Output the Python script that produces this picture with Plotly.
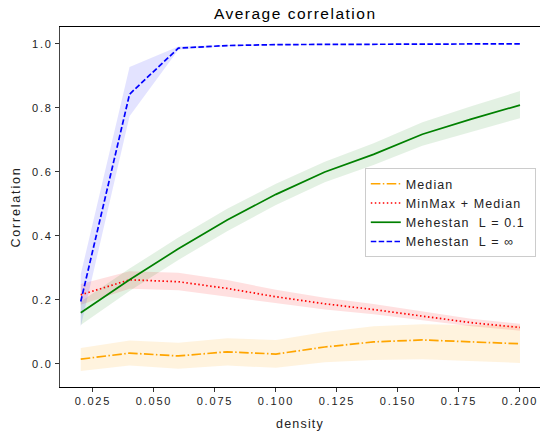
import plotly.graph_objects as go

density = [0.02, 0.04, 0.06, 0.08, 0.10, 0.12, 0.14, 0.16, 0.18, 0.20]

median_mean = [0.015, 0.034, 0.025, 0.038, 0.031, 0.053, 0.069, 0.075, 0.069, 0.063]
median_lo = [-0.022, -0.005, -0.015, -0.005, -0.012, 0.005, 0.012, 0.015, 0.010, 0.003]
median_hi = [0.050, 0.073, 0.066, 0.080, 0.075, 0.100, 0.118, 0.124, 0.122, 0.120]

minmax_mean = [0.216, 0.263, 0.257, 0.236, 0.210, 0.188, 0.170, 0.150, 0.129, 0.114]
minmax_lo = [0.185, 0.235, 0.230, 0.212, 0.190, 0.170, 0.155, 0.137, 0.118, 0.104]
minmax_hi = [0.250, 0.290, 0.285, 0.262, 0.232, 0.207, 0.187, 0.164, 0.141, 0.126]

meh01_mean = [0.160, 0.263, 0.360, 0.450, 0.530, 0.600, 0.655, 0.718, 0.765, 0.809]
meh01_lo = [0.122, 0.228, 0.325, 0.415, 0.497, 0.568, 0.622, 0.682, 0.726, 0.768]
meh01_hi = [0.195, 0.298, 0.395, 0.485, 0.563, 0.632, 0.690, 0.755, 0.805, 0.853]

mehinf_mean = [0.195, 0.843, 0.987, 0.995, 0.998, 0.999, 0.999, 1.000, 1.000, 1.000]
mehinf_lo = [0.116, 0.774, 0.982, 0.993, 0.997, 0.998, 0.998, 0.999, 0.999, 0.999]
mehinf_hi = [0.280, 0.928, 0.992, 0.997, 0.999, 1.000, 1.000, 1.000, 1.000, 1.000]

series_names = ["Median", "MinMax\u00a0+\u00a0Median", "Mehestan\u00a0 L\u00a0=\u00a00.1", "Mehestan\u00a0 L\u00a0=\u00a0∞"]

series = [
    (series_names[0], median_mean, median_lo, median_hi, "orange", "rgba(255,165,0,0.13)", "9.6px,2.4px,1.5px,2.4px"),
    (series_names[1], minmax_mean, minmax_lo, minmax_hi, "red", "rgba(255,0,0,0.12)", "1.5px,2.5px"),
    (series_names[2], meh01_mean, meh01_lo, meh01_hi, "green", "rgba(0,128,0,0.11)", "solid"),
    (series_names[3], mehinf_mean, mehinf_lo, mehinf_hi, "blue", "rgba(0,0,255,0.11)", "5.5px,2.4px"),
]

fig = go.Figure()
for name, mean, lo, hi, color, fillc, dash in series:
    fig.add_trace(go.Scatter(x=density + density[::-1], y=hi + lo[::-1], fill="toself",
                             fillcolor=fillc, line=dict(width=0), mode="lines",
                             hoverinfo="skip", showlegend=False))
for name, mean, lo, hi, color, fillc, dash in series:
    fig.add_trace(go.Scatter(x=density, y=mean, mode="lines", name=name,
                             line=dict(color=color, width=1.7, dash=dash)))

fig.update_layout(
    width=540, height=434,
    margin=dict(l=60, r=0, t=27, b=47, autoexpand=False),
    paper_bgcolor="white", plot_bgcolor="white",
    font=dict(family="Liberation Sans, Arial, sans-serif", size=11, color="#222"),
    title=dict(text="Average correlation", x=0.49, xref="paper", xanchor="center",
               y=0.968, yanchor="middle", font=dict(size=15.5, color="black")),
    legend=dict(x=0.635, y=0.608, xanchor="left", yanchor="top",
                bgcolor="white", bordercolor="#cccccc", borderwidth=1,
                font=dict(size=12.5, color="#222"), tracegroupgap=0, itemwidth=30),
    showlegend=True,
)
fig.update_xaxes(range=[0.0115, 0.2082], tickvals=[0.025, 0.05, 0.075, 0.1, 0.125, 0.15, 0.175, 0.2],
                 tickformat=".3f", ticks="outside", ticklen=4, tickcolor="#333",
                 showline=True, linecolor="black", linewidth=1, mirror=True, showgrid=False,
                 zeroline=False, automargin=False,
                 title=dict(text="density", standoff=13, font=dict(size=12.5)))
fig.update_yaxes(range=[-0.072, 1.053], tickvals=[0, 0.2, 0.4, 0.6, 0.8, 1.0],
                 tickformat=".1f", ticks="outside", ticklen=4, tickcolor="#333",
                 showline=True, linecolor="#444", linewidth=1, mirror=True, showgrid=False,
                 zeroline=False, automargin=False,
                 title=dict(text="Correlation", standoff=14, font=dict(size=12.5)))

post = """
document.body.style.margin='0';
document.body.style.padding='0';
function sp(sel, v){document.querySelectorAll(sel).forEach(function(t){t.style.letterSpacing=v;});}
sp('.xtick text','1.8px'); sp('.ytick text','1.8px');
sp('.g-xtitle text','1.2px'); sp('.g-ytitle text','1.8px');
sp('.g-gtitle text','1.5px'); sp('.legendtext','1.1px');
document.querySelectorAll('.legend .scrollbox').forEach(function(e){e.removeAttribute('clip-path');});
document.querySelectorAll('.legend rect.bg').forEach(function(b){b.setAttribute('width','170');});
"""

fig.write_html("out.html", post_script=post, config={"displayModeBar": False})
